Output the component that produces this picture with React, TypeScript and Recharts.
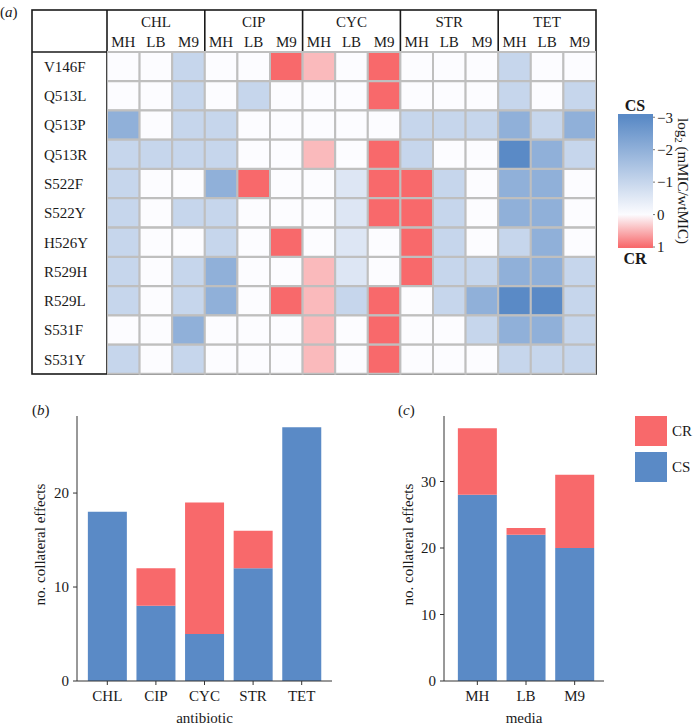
import React from 'react';
import { BarChart, Bar, XAxis, YAxis, Cell, Label, Customized } from 'recharts';

const FONT = '"Liberation Serif", "Times New Roman", serif';
const INK = '#1a1a1a';
const BLUE = '#5A8AC6';
const RED = '#F8696B';
const GRID = '#BFBFBF';

const mutations = ['V146F', 'Q513L', 'Q513P', 'Q513R', 'S522F', 'S522Y', 'H526Y', 'R529H', 'R529L', 'S531F', 'S531Y'];
const antibiotics = ['CHL', 'CIP', 'CYC', 'STR', 'TET'];
const media = ['MH', 'LB', 'M9'];

// log2(mMIC/wtMIC) per mutation, columns MH, LB, M9
const chl = [[0, 0, -1], [0, 0, -1], [-2, 0, -1], [-1, -1, -1], [-1, 0, 0], [-1, 0, -1], [-1, 0, 0], [-1, 0, -1], [-1, 0, -1], [0, 0, -2], [-1, 0, -1]];
const cip = [[0, 0, 1], [0, -1, 0], [-1, 0, 0], [-1, 0, 0], [-2, 1, 0], [-1, 0, 0], [-1, 0, 1], [-2, 0, 0], [-2, 0, 1], [0, 0, 0], [0, 0, 0]];
const cyc = [[0.45, 0, 1], [0, 0, 1], [0, 0, 0], [0.45, 0, 1], [0, -0.58, 1], [0, -0.58, 1], [0, -0.58, 0], [0.45, -0.58, 0], [0.45, -1, 1], [0.45, 0, 1], [0.45, 0, 1]];
const str = [[0, 0, 0], [0, 0, 0], [-1, -1, -1], [-1, 0, 0], [1, -1, 0], [1, -1, 0], [1, -1, 0], [1, -1, -1], [0, -1, -2], [0, 0, -1], [0, 0, 0]];
const tet = [[-1, 0, 0], [-1, 0, -1], [-2, -1, -2], [-3, -2, -1], [-2, -2, 0], [-2, -2, 0], [-1, -2, 0], [-2, -2, -1], [-3, -3, -1], [-2, -2, -1], [-1, -1, -1]];

// number of collateral effects
const abCS = [18, 8, 5, 12, 27];
const abCR = [0, 4, 14, 4, 0];
const mediaCS = [28, 22, 20];
const mediaCR = [10, 1, 11];

const scaleTicks = [-3, -2, -1, 0, 1];
const scaleRange = [-3.1, 1.03];

const heatValues = [chl, cip, cyc, str, tet];
const heatRows = mutations.map((m, i) => ({ mutation: m, cells: heatValues.flatMap((ab) => ab[i]) }));
const cellColumns = antibiotics.flatMap((ab, a) => media.map((md, k) => ({ ab, md, index: a * 3 + k })));
// every cell spans one column unit of the table
const cellSpans = cellColumns.map(() => () => 1);

const abData = antibiotics.map((a, i) => ({ antibiotic: a, CS: abCS[i], CR: abCR[i] }));
const mediaData = media.map((m, i) => ({ media: m, CS: mediaCS[i], CR: mediaCR[i] }));

const W = [252, 252, 255];
const B = [90, 138, 198];
const R = [248, 105, 107];
const mix = (a: number[], b: number[], t: number) =>
  `rgb(${a.map((v, i) => Math.round(v + (b[i] - v) * t)).join(',')})`;
const heatColor = (v: number) => (v < 0 ? mix(W, B, Math.min(-v / 3, 1)) : mix(W, R, Math.min(v, 1)));

const FRAME = { left: 32, top: 10, right: 596, bottom: 374, header: 52, labels: 107 };

const TableFrame = () => {
  const colW = (FRAME.right - FRAME.labels) / antibiotics.length;
  return (
    <g stroke={INK} strokeWidth={1.6} fill="none">
      <rect x={FRAME.left} y={FRAME.top} width={FRAME.right - FRAME.left} height={FRAME.bottom - FRAME.top} />
      <line x1={FRAME.left} x2={FRAME.right} y1={FRAME.header} y2={FRAME.header} />
      {antibiotics.map((_, k) => (
        <line key={k} x1={FRAME.labels + k * colW} x2={FRAME.labels + k * colW} y1={FRAME.top} y2={FRAME.bottom} />
      ))}
    </g>
  );
};

const RowLabel = (props: any) => {
  const { x, y, payload } = props;
  return (
    <text x={x - 55} y={y} dy="0.35em" textAnchor="start" fontSize={15} fill={INK} fontFamily={FONT}>
      {payload.value}
    </text>
  );
};

const tickStyle = { fontSize: 15, fill: INK, fontFamily: FONT };

const Heatmap = () => (
  <BarChart
    layout="vertical"
    width={697}
    height={380}
    data={heatRows}
    margin={{ top: 10, right: 101, bottom: 6, left: 32 }}
    barCategoryGap={0}
    barGap={0}
  >
    <XAxis
      xAxisId="inner"
      type="number"
      orientation="top"
      domain={[0, 15]}
      ticks={cellColumns.map((c) => c.index + 0.5)}
      interval={0}
      tickFormatter={(v: number) => media[Math.floor(v) % 3]}
      height={20}
      axisLine={false}
      tickLine={false}
      tickSize={0}
      tickMargin={5}
      tick={tickStyle}
      allowDataOverflow
    />
    <XAxis
      xAxisId="outer"
      type="number"
      orientation="top"
      domain={[0, 15]}
      ticks={antibiotics.map((_, a) => a * 3 + 1.5)}
      interval={0}
      tickFormatter={(v: number) => antibiotics[Math.floor(v / 3)]}
      height={22}
      axisLine={false}
      tickLine={false}
      tickSize={0}
      tickMargin={5}
      tick={tickStyle}
      allowDataOverflow
    />
    <YAxis type="category" dataKey="mutation" width={75} axisLine={false} tickLine={false} tick={<RowLabel />} interval={0} />
    {cellColumns.map((col, j) => (
      <Bar
        key={`${col.ab}-${col.md}`}
        xAxisId="inner"
        dataKey={cellSpans[j]}
        stackId="row"
        stroke={GRID}
        strokeWidth={2}
        isAnimationActive={false}
      >
        {heatRows.map((r, i) => (
          <Cell key={`c-${i}`} fill={heatColor(r.cells[j])} />
        ))}
      </Bar>
    ))}
    <Customized component={TableFrame} />
  </BarChart>
);

const ScaleTitle = (props: any) => {
  const { viewBox } = props;
  const x = viewBox.x + viewBox.width - 14;
  const y = viewBox.y + viewBox.height / 2;
  return (
    <text x={x} y={y} transform={`rotate(90 ${x} ${y})`} textAnchor="middle" dominantBaseline="central" fontSize={15} fill={INK} fontFamily={FONT}>
      log<tspan fontSize={11} dy={4}>2</tspan>
      <tspan dy={-4}> (mMIC/wtMIC)</tspan>
    </text>
  );
};

const span = scaleRange[1] - scaleRange[0];
const stopAt = (v: number) => `${(((v - scaleRange[0]) / span) * 100).toFixed(1)}%`;

const ColorBar = () => (
  <BarChart width={97} height={180} data={[{ name: 'scale', span: scaleRange }]} margin={{ top: 24, right: 0, bottom: 22, left: 18 }} barCategoryGap={0}>
    <XAxis dataKey="name" hide />
    <YAxis
      orientation="right"
      type="number"
      domain={scaleRange}
      reversed
      ticks={scaleTicks}
      interval={0}
      width={44}
      axisLine={false}
      tickSize={2}
      tickMargin={2}
      tickLine={{ stroke: '#777' }}
      tickFormatter={(v: number) => (v < 0 ? `\u2212${-v}` : `${v}`)}
      tick={tickStyle}
      allowDataOverflow
    >
      <Label content={ScaleTitle} />
    </YAxis>
    <Bar dataKey="span" fill="url(#cbGrad)" isAnimationActive={false} />
  </BarChart>
);

const makeYTitle = (offset: number) => (props: any) => {
  const { viewBox } = props;
  const x = viewBox.x + offset;
  const y = viewBox.y + viewBox.height / 2 - 4;
  return (
    <text x={x} y={y} transform={`rotate(-90 ${x} ${y})`} textAnchor="middle" dominantBaseline="central" fontSize={15} fill={INK} fontFamily={FONT}>
      no. collateral effects
    </text>
  );
};

const EffectsChart = (props: any) => {
  const { data, categoryKey, title, yMax, ticks, width, yWidth, right, padding, labelOffset } = props;
  return (
    <BarChart width={width} height={326} data={data} margin={{ top: 16, right, bottom: 3, left: 0 }} barCategoryGap="10%">
      <XAxis
        dataKey={categoryKey}
        height={42}
        padding={padding}
        tickSize={4}
        tickMargin={5}
        stroke="#333"
        tick={tickStyle}
        interval={0}
      >
        <Label value={title} position="insideBottom" offset={0} fontSize={15} fill={INK} fontFamily={FONT} />
      </XAxis>
      <YAxis type="number" domain={[0, yMax]} ticks={ticks} width={yWidth} tickSize={4} tickMargin={4} stroke="#333" tick={tickStyle} allowDataOverflow>
        <Label content={makeYTitle(labelOffset)} />
      </YAxis>
      <Bar dataKey="CS" stackId="e" fill={BLUE} isAnimationActive={false} />
      <Bar dataKey="CR" stackId="e" fill={RED} isAnimationActive={false} />
    </BarChart>
  );
};

const panelLabel = (text: string, left: number, top: number) => (
  <div style={{ position: 'absolute', left, top, fontFamily: FONT, fontSize: 15, lineHeight: '15px', color: INK }}>
    (<i>{text}</i>)
  </div>
);

const centred = (text: string, left: number, top: number) => (
  <div
    style={{
      position: 'absolute', left, top, transform: 'translate(-50%, -50%)',
      fontFamily: FONT, fontSize: 16, fontWeight: 'bold', color: INK, lineHeight: '16px',
    }}
  >
    {text}
  </div>
);

export default function App() {
  const legend = [
    { name: 'CR', color: RED },
    { name: 'CS', color: BLUE },
  ];
  return (
    <div style={{ position: 'absolute', left: 0, top: 0, width: 697, height: 726, background: '#fff', overflow: 'hidden' }}>
      <svg width={0} height={0} style={{ position: 'absolute' }}>
        <defs>
          <linearGradient id="cbGrad" x1="0" y1="0" x2="0" y2="1">
            <stop offset={stopAt(-3)} stopColor={BLUE} />
            <stop offset={stopAt(0)} stopColor="#FCFCFF" />
            <stop offset={stopAt(1)} stopColor={RED} />
          </linearGradient>
        </defs>
      </svg>
      <div style={{ position: 'absolute', left: 0, top: 0 }}>
        <Heatmap />
      </div>
      <div style={{ position: 'absolute', left: 600, top: 90 }}>
        <ColorBar />
      </div>
      {centred('CS', 635, 106)}
      {centred('CR', 635, 259)}
      {panelLabel('a', 0, 5)}
      {panelLabel('b', 32, 403)}
      {panelLabel('c', 398, 403)}
      <div style={{ position: 'absolute', left: 0, top: 400 }}>
        <EffectsChart
          data={abData}
          categoryKey="antibiotic"
          title="antibiotic"
          yMax={28.2}
          ticks={[0, 10, 20]}
          width={345}
          yWidth={77}
          right={13}
          padding={{ left: 6, right: 6 }}
          labelOffset={40}
        />
      </div>
      <div style={{ position: 'absolute', left: 345, top: 400 }}>
        <EffectsChart
          data={mediaData}
          categoryKey="media"
          title="media"
          yMax={39.85}
          ticks={[0, 10, 20, 30]}
          width={352}
          yWidth={99}
          right={93}
          padding={{ left: 9, right: 5 }}
          labelOffset={63}
        />
      </div>
      {legend.map((l, i) => (
        <div key={l.name} style={{ position: 'absolute', left: 635, top: 416 + i * 36, display: 'flex', alignItems: 'center' }}>
          <div style={{ width: 32, height: 30, background: l.color }} />
          <span style={{ marginLeft: 5, fontFamily: FONT, fontSize: 15, color: INK }}>{l.name}</span>
        </div>
      ))}
    </div>
  );
}
